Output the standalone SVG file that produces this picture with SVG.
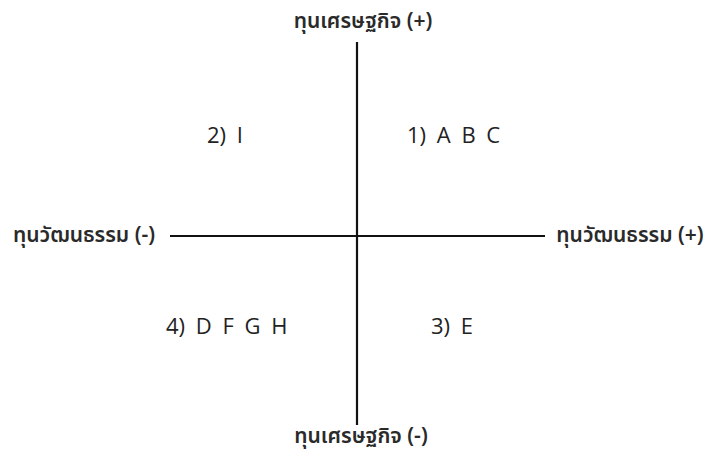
<svg xmlns="http://www.w3.org/2000/svg" width="712" height="459" viewBox="0 0 712 459">
<style>
.ax{font-family:"Noto Sans Thai","Noto Sans","Open Sans","DejaVu Sans",sans-serif;font-size:21px;font-weight:600;fill:#2a2a2a}
.q{font-family:"Open Sans","Liberation Sans",sans-serif;font-size:22px;fill:#222;word-spacing:5px}
.line{stroke:#111;stroke-width:2.2;fill:none}
</style>
<rect width="712" height="459" fill="#fff"/>
<g id="connectors">
<line class="line" x1="357" y1="42" x2="357" y2="425"/>
<line class="line" x1="170" y1="236" x2="545" y2="236"/>
</g>
<g id="top"><text class="ax" x="363" y="28" text-anchor="middle">ทุนเศรษฐกิจ (+)</text></g>
<g id="bottom"><text class="ax" x="361" y="443" text-anchor="middle">ทุนเศรษฐกิจ (-)</text></g>
<g id="left"><text class="ax" x="84" y="242" text-anchor="middle">ทุนวัฒนธรรม (-)</text></g>
<g id="right"><text class="ax" x="630" y="242" text-anchor="middle">ทุนวัฒนธรรม (+)</text></g>
<g id="q1"><text class="q" x="407" y="143">1) A B C</text></g>
<g id="q2"><text class="q" x="207" y="143">2) I</text></g>
<g id="q3"><text class="q" x="431" y="334">3) E</text></g>
<g id="q4"><text class="q" x="166" y="334">4) D F G H</text></g>
</svg>
